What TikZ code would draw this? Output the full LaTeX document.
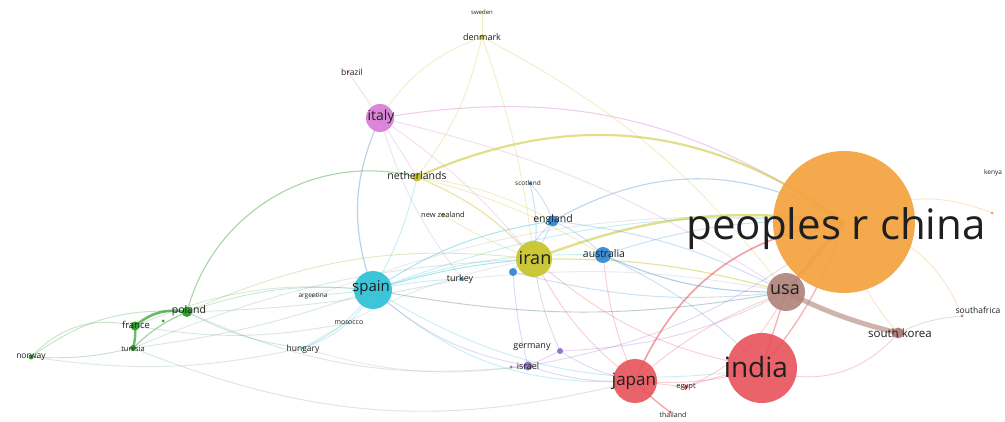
\documentclass[tikz,border=0pt]{standalone}
\usepackage{fontspec}
\setmainfont{Open Sans}
\usetikzlibrary{backgrounds}
\definecolor{cchina}{RGB}{245,162,62}
\definecolor{cusa}{RGB}{176,130,120}
\definecolor{cred}{RGB}{232,82,90}
\definecolor{cyel}{RGB}{200,198,46}
\definecolor{cblue}{RGB}{58,143,216}
\definecolor{ccyan}{RGB}{52,195,214}
\definecolor{cpink}{RGB}{218,128,216}
\definecolor{cgreen}{RGB}{46,158,46}
\definecolor{cpurp}{RGB}{154,112,208}
\definecolor{cgray}{RGB}{170,180,190}
\begin{document}
\begin{tikzpicture}[x=1pt,y=-1pt,
  dot/.style={circle,inner sep=0pt,minimum size=#1,draw=none},
  lab/.style={text=black!88,inner sep=0pt,font=\fontsize{#1}{#1}\selectfont},
  lk/.style={draw=#1,opacity=0.28,line width=0.9pt},
  thk/.style={line width=#1}
]
\useasboundingbox (0,0) rectangle (1005,422);
% ---------- circles ----------
\node[dot=142,fill=cchina,opacity=0.92] (china) at (844,222) {};
\node[dot=38,fill=cusa,opacity=0.9] (usa) at (786,292) {};
\node[dot=11,fill=cusa] (skorea) at (898,333) {};
\node[dot=70,fill=cred,opacity=0.9] (india) at (762,368) {};
\node[dot=44,fill=cred,opacity=0.9] (japan) at (635,381) {};
\node[dot=4,fill=cred] (egypt) at (686,387) {};
\node[dot=3,fill=cred] (thailand) at (670,412) {};
\node[dot=36,fill=cyel,opacity=0.95] (iran) at (534,259) {};
\node[dot=16,fill=cblue] (australia) at (603,255) {};
\node[dot=11,fill=cblue] (england) at (553,221) {};
\node[dot=3,fill=cblue] (scotland) at (530,183) {};
\node[dot=8,fill=cblue] (bdot) at (513,272) {};
\node[dot=38,fill=ccyan,opacity=0.95] (spain) at (373,290) {};
\node[dot=4,fill=ccyan] (turkey) at (462,279) {};
\node[dot=3,fill=ccyan] (argentina) at (313,296) {};
\node[dot=3,fill=ccyan] (morocco) at (348,323) {};
\node[dot=3,fill=ccyan] (hungary) at (303,348) {};
\node[dot=9,fill=cyel] (netherlands) at (417,177) {};
\node[dot=4,fill=cyel] (nzealand) at (443,215) {};
\node[dot=5,fill=cyel] (denmark) at (482,37) {};
\node[dot=2,fill=cyel] (sweden) at (482,12) {};
\node[dot=28,fill=cpink,opacity=0.95] (italy) at (380,118) {};
\node[dot=3,fill=cpink] (brazil) at (348,72) {};
\node[dot=10,fill=cgreen] (poland) at (187,312) {};
\node[dot=9,fill=cgreen] (france) at (135,326) {};
\node[dot=3,fill=cgreen] (gdot) at (163,321) {};
\node[dot=6,fill=cgreen] (tunisia) at (133,348) {};
\node[dot=5,fill=cgreen] (norway) at (31,357) {};
\node[dot=6,fill=cpurp] (germany) at (560,351) {};
\node[dot=9,fill=cpurp] (israel) at (528,366) {};
\node[dot=3,fill=cpurp] (pdot) at (511,367) {};
\node[dot=3,fill=cchina] (kenya) at (992,213) {};
\node[dot=3,fill=cusa] (safrica) at (962,316) {};
% ---------- edges ----------
\begin{scope}[on background layer]
\fill[white] (0,0) rectangle (1005,422);
% green
\draw[lk=cgreen,opacity=0.7,thk=2.6pt] (france.center) to[bend left=25] (poland.center);
\draw[lk=cgreen,opacity=0.7,thk=2.4pt] (france.center) to[bend left=10] (tunisia.center);
\draw[lk=cgreen,opacity=0.45,thk=1.2pt] (tunisia.center) to[bend left=10] (poland.center);
\draw[lk=cgreen] (norway.center) to[bend left=30] (france.center);
\draw[lk=cgreen] (norway.center) to[bend right=8] (tunisia.center);
\draw[lk=cgreen] (norway.center) to[bend left=20] (poland.center);
\draw[lk=cgreen,opacity=0.42,thk=1.1pt] (poland.center) to[bend left=45] (netherlands.center);
\draw[lk=cgreen!50!ccyan] (poland.center) to[bend left=12] (spain.center);
\draw[lk=cgreen!50!ccyan] (poland.center) to[bend right=10] (hungary.center);
\draw[lk=cgreen!40!cyel] (poland.center) to[bend left=15] (iran.center);
\draw[lk=cgreen!40!cgray] (tunisia.center) to[bend right=18] (japan.center);
\draw[lk=cgreen!40!cgray] (france.center) to[bend right=10] (morocco.center);
\draw[lk=cgreen!40!cgray] (tunisia.center) to[bend right=6] (spain.center);
\draw[lk=cgreen!40!cgray] (poland.center) to[bend right=5] (turkey.center);
\draw[lk=cgreen!40!cgray] (france.center) to[bend left=14] (spain.center);
\draw[lk=cgreen!40!cgray] (poland.center) to[bend right=15] (israel.center);
\draw[lk=cgreen!30!cgray] (norway.center) to[bend right=10] (hungary.center);
\draw[lk=cgreen!30!cgray] (tunisia.center) to[bend left=10] (iran.center);
% cyan
\draw[lk=ccyan!60!cpink,opacity=0.5,thk=1.2pt] (spain.center) to[bend left=22] (italy.center);
\draw[lk=ccyan] (spain.center) to (argentina.center);
\draw[lk=ccyan] (spain.center) to[bend left=10] (morocco.center);
\draw[lk=ccyan] (spain.center) to[bend left=15] (hungary.center);
\draw[lk=ccyan] (spain.center) to[bend left=5] (turkey.center);
\draw[lk=ccyan,opacity=0.45] (spain.center) to[bend left=12] (england.center);
\draw[lk=ccyan,opacity=0.45] (spain.center) to[bend left=6] (iran.center);
\draw[lk=ccyan] (spain.center) to[bend left=10] (australia.center);
\draw[lk=ccyan] (spain.center) to[bend left=12] (china.center);
\draw[lk=ccyan] (spain.center) to[bend right=10] (usa.center);
\draw[lk=ccyan] (spain.center) to[bend right=8] (netherlands.center);
\draw[lk=ccyan] (spain.center) to[bend right=22] (japan.center);
\draw[lk=ccyan] (spain.center) to[bend right=20] (india.center);
\draw[lk=ccyan] (morocco.center) to[bend left=10] (hungary.center);
\draw[lk=cgray] (hungary.center) to[bend left=10] (iran.center);
\draw[lk=cgray] (argentina.center) to[bend left=12] (china.center);
% pink
\draw[lk=cpink] (italy.center) to (brazil.center);
\draw[lk=cpink,opacity=0.38,thk=1.1pt] (italy.center) to[bend left=22] (china.center);
\draw[lk=cpink] (italy.center) to[bend left=10] (usa.center);
\draw[lk=cpink] (italy.center) to (netherlands.center);
\draw[lk=cpink] (italy.center) to[bend left=8] (iran.center);
\draw[lk=cpink!50!cgray] (italy.center) to[bend right=10] (turkey.center);
\draw[lk=cyel] (italy.center) to[bend left=18] (denmark.center);
% yellow
\draw[lk=cyel,opacity=0.55,thk=2.2pt] (netherlands.center) to[bend left=30] (china.center);
\draw[lk=cyel] (denmark.center) to (sweden.center);
\draw[lk=cyel] (denmark.center) to[bend left=12] (netherlands.center);
\draw[lk=cyel] (denmark.center) to[bend left=12] (usa.center);
\draw[lk=cyel] (denmark.center) to[bend left=6] (iran.center);
\draw[lk=cyel,opacity=0.55,thk=2.4pt] (iran.center) to[bend left=14] (china.center);
\draw[lk=cyel,opacity=0.42,thk=1.2pt] (netherlands.center) to[bend left=12] (iran.center);
\draw[lk=cyel,opacity=0.45,thk=1.2pt] (iran.center) to[bend left=8] (usa.center);
\draw[lk=cyel] (nzealand.center) to[bend right=5] (iran.center);
\draw[lk=cyel] (netherlands.center) to[bend left=8] (australia.center);
\draw[lk=cyel] (netherlands.center) to[bend left=10] (england.center);
% blue
\draw[lk=cblue!60!cgray,opacity=0.42,thk=1.1pt] (england.center) to[bend left=30] (china.center);
\draw[lk=cblue] (england.center) to[bend right=10] (scotland.center);
\draw[lk=cblue] (england.center) to[bend left=10] (australia.center);
\draw[lk=cblue] (england.center) to (iran.center);
\draw[lk=cblue,opacity=0.42,thk=1.1pt] (australia.center) to[bend right=12] (usa.center);
\draw[lk=cblue] (australia.center) to[bend left=10] (china.center);
\draw[lk=cblue] (england.center) to[bend left=10] (usa.center);
\draw[lk=cblue] (bdot.center) to[bend left=5] (england.center);
\draw[lk=cblue!50!cpurp] (bdot.center) to[bend right=5] (israel.center);
\draw[lk=cblue] (scotland.center) to[bend left=10] (iran.center);
\draw[lk=cblue] (bdot.center) to[bend right=10] (usa.center);
\draw[lk=cblue] (australia.center) to[bend left=10] (india.center);
% purple
\draw[lk=cpurp] (germany.center) to (israel.center);
\draw[lk=cpurp] (pdot.center) to (israel.center);
\draw[lk=cpurp] (israel.center) to[bend right=10] (japan.center);
\draw[lk=cpurp] (germany.center) to[bend right=12] (usa.center);
\draw[lk=cpurp] (israel.center) to[bend left=15] (spain.center);
\draw[lk=cpurp] (germany.center) to[bend left=8] (iran.center);
\draw[lk=cpurp] (israel.center) to[bend right=14] (china.center);
\draw[lk=cpurp] (germany.center) to[bend right=10] (japan.center);
\draw[lk=cgray] (hungary.center) to[bend right=12] (israel.center);
% red
\draw[lk=cred,opacity=0.55,thk=1.6pt] (japan.center) to[bend left=30] (china.center);
\draw[lk=cred] (japan.center) to[bend right=10] (india.center);
\draw[lk=cred] (japan.center) to (egypt.center);
\draw[lk=cred,opacity=0.5,thk=1.4pt] (japan.center) to[bend right=5] (thailand.center);
\draw[lk=cred] (india.center) to[bend right=5] (egypt.center);
\draw[lk=cred,opacity=0.42,thk=1.4pt] (india.center) to (usa.center);
\draw[lk=cred,opacity=0.42,thk=1.4pt] (india.center) to[bend right=10] (china.center);
\draw[lk=cred] (india.center) to[bend right=35] (skorea.center);
\draw[lk=cred] (japan.center) to[bend left=10] (usa.center);
\draw[lk=cred] (india.center) to[bend left=15] (iran.center);
\draw[lk=cred] (japan.center) to[bend left=12] (iran.center);
\draw[lk=cred] (japan.center) to[bend left=8] (australia.center);
\draw[lk=cred] (egypt.center) to[bend right=20] (usa.center);
% brown / orange
\draw[lk=cusa,opacity=0.6,thk=5pt] (usa.center) to[bend right=6] (skorea.center);
\draw[lk=cusa,opacity=0.6,thk=4pt] (usa.center) to (china.center);
\draw[lk=cchina] (china.center) to[bend right=15] (skorea.center);
\draw[lk=cusa] (skorea.center) to[bend left=10] (safrica.center);
\draw[lk=cchina] (china.center) to[bend left=25] (kenya.center);
\draw[lk=cchina] (china.center) to[bend left=30] (safrica.center);
\draw[lk=cusa] (usa.center) to[bend left=10] (spain.center);
\draw[lk=cgray] (usa.center) to[bend right=8] (turkey.center);
\end{scope}
% ---------- labels ----------
\node[lab=42,anchor=base] (chinaL) at (836,240) {peoples r china};
\node[lab=18] (usaL) at (785,290) {usa};
\node[lab=11.5] (skoreaL) at (900,333) {south korea};
\node[lab=28] (indiaL) at (756,367) {india};
\node[lab=17] (japanL) at (634,381) {japan};
\node[lab=7.5] (egyptL) at (686,387) {egypt};
\node[lab=7] (thailandL) at (673,415) {thailand};
\node[lab=18] (iranL) at (535,258) {iran};
\node[lab=10.5] (australiaL) at (604,254) {australia};
\node[lab=10.5] (englandL) at (553,220) {england};
\node[lab=6.5] (scotlandL) at (528,183) {scotland};
\node[lab=15] (spainL) at (371,288) {spain};
\node[lab=9] (turkeyL) at (460,279) {turkey};
\node[lab=6.5] (argentinaL) at (313,296) {argentina};
\node[lab=7] (moroccoL) at (349,323) {morocco};
\node[lab=8.5] (hungaryL) at (303,349) {hungary};
\node[lab=10.5] (netherlandsL) at (417,176) {netherlands};
\node[lab=7.5] (nzealandL) at (443,215) {new zealand};
\node[lab=9] (denmarkL) at (482,37) {denmark};
\node[lab=6] (swedenL) at (482,12) {sweden};
\node[lab=14] (italyL) at (381,117) {italy};
\node[lab=8.5] (brazilL) at (352,72) {brazil};
\node[lab=10.5] (polandL) at (189,311) {poland};
\node[lab=9.5] (franceL) at (136,325) {france};
\node[lab=7.5] (tunisiaL) at (133,349) {tunisia};
\node[lab=8.5] (norwayL) at (31,357) {norway};
\node[lab=9] (germanyL) at (532,347) {germany};
\node[lab=9] (israelL) at (528,366) {israel};
\node[lab=6.5] (kenyaL) at (993,173) {kenya};
\node[lab=8.5] (safricaL) at (978,310) {southafrica};
\end{tikzpicture}
\end{document}
